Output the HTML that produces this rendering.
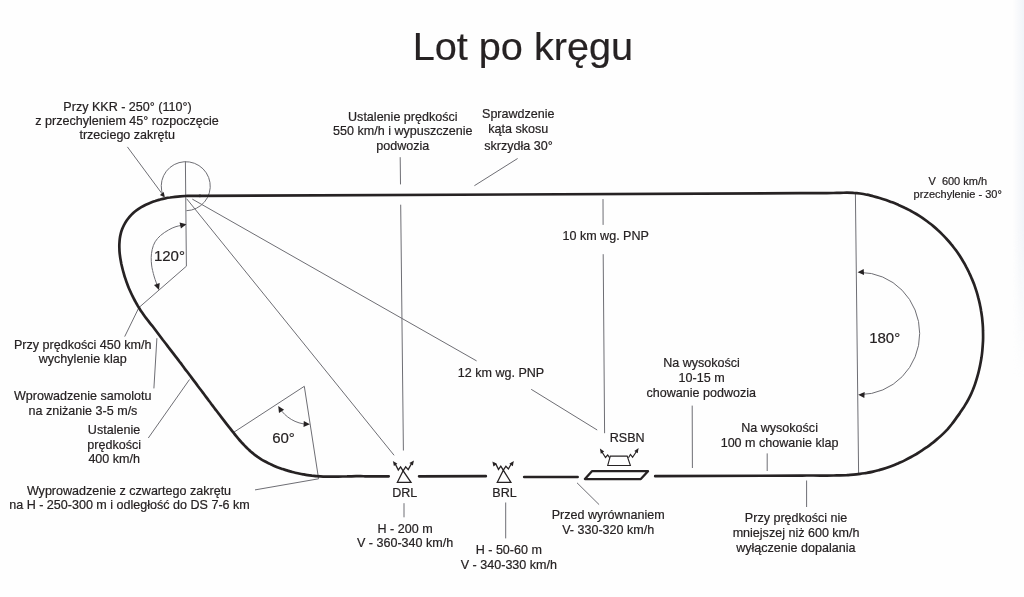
<!DOCTYPE html>
<html lang="pl">
<head>
<meta charset="utf-8">
<title>Lot po kręgu</title>
<style>
html,body{margin:0;padding:0;background:#fefefe;}
body{width:1024px;height:597px;overflow:hidden;}
svg{display:block;will-change:transform;}
text{white-space:pre;}
</style>
</head>
<body>
<svg width="1024" height="597" viewBox="0 0 1024 597">
<defs><linearGradient id="eh" x1="0" y1="0" x2="1" y2="0"><stop offset="0" stop-color="#f0f3f8" stop-opacity="0"/><stop offset="1" stop-color="#f0f3f8" stop-opacity="1"/></linearGradient><linearGradient id="ev" x1="0" y1="0" x2="0" y2="1"><stop offset="0" stop-color="#fff"/><stop offset="0.6" stop-color="#fff"/><stop offset="1" stop-color="#000"/></linearGradient><mask id="em"><rect x="1000" y="0" width="24" height="380" fill="url(#ev)"/></mask></defs>
<rect width="1024" height="597" fill="#fefefe"/>
<rect x="1013" y="0" width="11" height="380" fill="url(#eh)" mask="url(#em)"/>
<g fill="none" stroke="#6e6e74" stroke-width="1.00" stroke-linecap="butt">
<path d="M185.4 161.3 L186.4 266.2 L138.9 307.6"/>
<path d="M138.9 307.6 L124.7 336.6"/>
<path d="M156.9 338.2 L153.9 388.4"/>
<path d="M189.5 379.5 L148.3 438"/>
<path d="M233.6 432.4 L304.3 386.3 L318.6 478.8 L255 489.9"/>
<path d="M186.7 198.8 L394.1 455.3"/>
<path d="M192.3 199.1 L476.6 360.9"/>
<path d="M531.2 389.3 L597.2 430"/>
<path d="M400.2 157.2 L400.5 184.4"/>
<path d="M400.7 204.7 L403.4 450.5"/>
<path d="M517.6 158.5 L474.4 185.7"/>
<path d="M603 199.1 L603.1 224.9"/>
<path d="M603.2 254.2 L604.6 433.2"/>
<path d="M855.4 193 L858.6 473"/>
<path d="M692.2 405.6 L692.4 468"/>
<path d="M767.2 453.4 L767.2 471"/>
<path d="M806.6 480.5 L806.6 507"/>
<path d="M404 503.2 L404 517.3"/>
<path d="M505.7 502.5 L505.7 538.4"/>
<path d="M577 482.8 L599.1 504.6"/>
<path d="M127.4 146.9 L162.4 194.2"/>
<path d="M186.4 210.7 A24.5 24.5 0 1 0 163.2 195.8"/>
<path d="M185.5 224.8 C183.9 225.1 178.8 225.7 176.0 226.6 C173.2 227.5 171.1 228.5 168.5 230.0 C165.9 231.5 162.7 233.5 160.5 235.5 C158.3 237.5 156.5 239.5 155.1 241.8 C153.7 244.1 152.8 246.9 152.2 249.5 C151.5 252.1 151.3 255.0 151.2 257.6 C151.1 260.2 151.4 262.9 151.6 265.0 C151.8 267.1 152.1 268.5 152.6 270.5 C153.1 272.5 153.5 274.3 154.3 277.0 C155.1 279.7 157.1 284.9 157.6 286.5"/>
<path d="M279.6 408 C285 417 296 424 307.5 424.2"/>
<path d="M859.8 272.4 A59.8 61.1 0 0 1 860.0 394.6"/>
</g>
<g fill="#262223" stroke="none">
<polygon points="164.9,197.6 159.9,194.9 163.7,192.0"/>
<polygon points="186.4,224.2 180.9,228.4 179.6,222.6"/>
<polygon points="159.0,289.9 154.0,285.0 159.7,283.0"/>
<polygon points="278.2,406.0 284.1,409.8 279.0,412.9"/>
<polygon points="309.9,424.3 303.5,427.0 303.8,421.0"/>
<polygon points="857.6,272.3 863.7,268.9 864.1,274.9"/>
<polygon points="858.2,394.7 864.7,392.1 864.3,398.1"/>
</g>
<g fill="none" stroke="#262223" stroke-width="2.70" stroke-linecap="round" stroke-linejoin="round">
<path d="M199.9 195.9 L800.0 193.2  C801.1 193.2 804.5 193.2 806.7 193.2 C808.9 193.2 811.1 193.2 813.4 193.2 C815.6 193.2 817.8 193.2 820.0 193.2 C822.3 193.1 824.5 193.1 826.7 193.1 C829.0 193.0 831.2 193.0 833.4 193.0 C835.6 192.9 837.9 192.9 840.1 192.8 C842.3 192.8 844.6 192.7 846.8 192.7 C849.0 192.7 851.3 192.7 853.5 192.9 C855.7 193.0 857.9 193.2 860.1 193.5 C862.3 193.8 864.5 194.2 866.7 194.7 C868.8 195.1 871.0 195.7 873.2 196.2 C875.3 196.8 877.5 197.4 879.6 198.0 C881.7 198.6 883.9 199.3 886.0 200.0 C888.1 200.8 890.2 201.5 892.3 202.3 C894.4 203.1 896.4 204.0 898.5 204.9 C900.5 205.7 902.6 206.7 904.6 207.7 C906.6 208.6 908.6 209.7 910.5 210.7 C912.5 211.8 914.4 212.9 916.3 214.0 C918.2 215.2 920.1 216.4 922.0 217.6 C923.8 218.9 925.6 220.2 927.4 221.5 C929.2 222.8 930.9 224.2 932.7 225.6 C934.4 227.0 936.1 228.5 937.7 230.0 C939.4 231.5 941.0 233.0 942.5 234.6 C944.1 236.2 945.6 237.8 947.1 239.5 C948.6 241.1 950.1 242.8 951.5 244.6 C952.9 246.3 954.2 248.1 955.6 249.8 C956.9 251.6 958.2 253.5 959.4 255.3 C960.6 257.2 961.8 259.1 962.9 261.0 C964.1 262.9 965.2 264.8 966.2 266.8 C967.3 268.8 968.3 270.8 969.2 272.8 C970.2 274.8 971.1 276.8 971.9 278.9 C972.8 280.9 973.6 283.0 974.4 285.1 C975.1 287.2 975.8 289.3 976.5 291.4 C977.2 293.6 977.8 295.7 978.3 297.9 C978.9 300.0 979.4 302.2 979.9 304.4 C980.3 306.6 980.8 308.8 981.1 311.0 C981.5 313.2 981.8 315.4 982.1 317.6 C982.3 319.8 982.5 322.0 982.7 324.2 C982.9 326.5 983.0 328.7 983.0 330.9 C983.1 333.1 983.1 335.4 983.1 337.6 C983.1 339.8 983.0 342.1 982.8 344.3 C982.7 346.5 982.5 348.7 982.3 351.0 C982.1 353.2 981.8 355.4 981.5 357.6 C981.1 359.8 980.8 362.0 980.3 364.2 C979.9 366.4 979.4 368.6 978.9 370.7 C978.4 372.9 977.8 375.1 977.2 377.2 C976.6 379.3 975.9 381.5 975.2 383.6 C974.5 385.7 973.7 387.8 972.9 389.8 C972.0 391.9 971.2 393.9 970.2 395.9 C969.2 397.9 968.2 399.9 967.1 401.8 C965.9 403.7 964.8 405.6 963.6 407.5 C962.3 409.4 961.1 411.2 959.8 413.1 C958.5 414.9 957.2 416.8 955.9 418.6 C954.6 420.4 953.3 422.2 951.9 424.0 C950.5 425.7 949.1 427.4 947.7 429.1 C946.2 430.7 944.6 432.3 943.0 433.9 C941.5 435.4 939.8 436.9 938.1 438.3 C936.5 439.8 934.7 441.2 933.0 442.6 C931.2 443.9 929.5 445.3 927.7 446.6 C925.8 447.9 924.0 449.2 922.1 450.4 C920.3 451.6 918.4 452.8 916.5 454.0 C914.5 455.1 912.6 456.2 910.6 457.3 C908.7 458.4 906.7 459.4 904.7 460.4 C902.7 461.4 900.6 462.3 898.6 463.2 C896.5 464.1 894.5 465.0 892.4 465.8 C890.3 466.6 888.2 467.3 886.1 468.0 C884.0 468.7 881.8 469.4 879.7 469.9 C877.5 470.5 875.4 471.1 873.2 471.6 C871.0 472.1 868.9 472.5 866.7 472.9 C864.5 473.2 862.3 473.6 860.1 473.8 C857.9 474.1 855.7 474.4 853.5 474.6 C851.3 474.8 849.0 474.9 846.8 475.1 C844.6 475.2 842.4 475.3 840.1 475.4 C837.9 475.4 835.7 475.5 833.4 475.5 C831.2 475.6 829.0 475.6 826.7 475.6 C824.5 475.6 822.3 475.6 820.0 475.6 C817.8 475.6 815.6 475.6 813.3 475.5 C811.1 475.5 808.9 475.5 806.7 475.5 C804.4 475.5 801.1 475.6 800.0 475.6 L655.2 476.2"/>
<path d="M388.7 476.35 L365.0 476.3  C364.3 476.3 362.1 476.2 360.6 476.2 C359.1 476.2 357.6 476.2 356.1 476.2 C354.6 476.2 353.2 476.2 351.7 476.3 C350.2 476.3 348.7 476.3 347.2 476.4 C345.7 476.4 344.2 476.4 342.8 476.5 C341.3 476.5 339.8 476.5 338.3 476.6 C336.8 476.6 335.3 476.6 333.9 476.7 C332.4 476.7 330.9 476.7 329.4 476.7 C327.9 476.7 326.5 476.6 325.0 476.6 C323.5 476.6 322.0 476.5 320.6 476.4 C319.1 476.3 317.6 476.2 316.2 476.1 C314.7 476.0 313.3 475.8 311.8 475.7 C310.4 475.5 308.9 475.3 307.5 475.1 C306.0 474.9 304.6 474.6 303.1 474.3 C301.7 474.1 300.2 473.8 298.8 473.5 C297.3 473.2 295.9 472.8 294.5 472.5 C293.0 472.1 291.6 471.8 290.1 471.4 C288.7 471.0 287.3 470.5 285.8 470.1 C284.4 469.7 283.0 469.2 281.5 468.7 C280.1 468.2 278.7 467.7 277.3 467.2 C275.9 466.6 274.5 466.0 273.2 465.4 C271.8 464.8 270.5 464.2 269.1 463.6 C267.8 462.9 266.5 462.2 265.2 461.5 C263.9 460.8 262.6 460.1 261.3 459.3 C260.1 458.5 258.8 457.7 257.6 456.9 C256.4 456.0 255.3 455.2 254.1 454.3 C253.0 453.4 251.8 452.4 250.7 451.5 C249.6 450.5 248.6 449.5 247.5 448.5 C246.5 447.5 245.4 446.4 244.4 445.4 C243.4 444.3 242.4 443.2 241.4 442.2 C240.4 441.1 239.4 439.9 238.5 438.8 C237.5 437.7 236.6 436.6 235.6 435.4 C234.7 434.3 233.8 433.1 232.8 431.9 C231.9 430.8 231.0 429.6 230.1 428.4 C229.2 427.3 228.2 426.1 227.3 424.9 C226.4 423.8 225.5 422.6 224.6 421.4 C223.7 420.2 222.8 419.1 221.9 417.9 C221.0 416.7 220.1 415.5 219.2 414.3 C218.3 413.2 217.4 412.0 216.5 410.8 C215.6 409.6 214.7 408.5 213.8 407.3 C212.9 406.1 212.0 404.9 211.1 403.7 C210.3 402.5 209.4 401.4 208.5 400.2 C207.6 399.0 206.7 397.8 205.8 396.6 C204.9 395.5 204.0 394.3 203.2 393.1 C202.3 391.9 201.4 390.7 200.5 389.5 C199.6 388.4 198.7 387.2 197.8 386.0 C197.0 384.8 196.1 383.6 195.2 382.4 C194.3 381.3 193.4 380.1 192.5 378.9 C191.6 377.7 190.8 376.5 189.9 375.3 C189.0 374.2 188.1 373.0 187.2 371.8 C186.3 370.6 185.4 369.4 184.5 368.3 C183.7 367.1 182.8 365.9 181.9 364.7 C181.0 363.5 180.1 362.4 179.2 361.2 C178.3 360.0 177.4 358.8 176.5 357.6 C175.6 356.5 174.7 355.3 173.8 354.1 C172.9 352.9 172.0 351.8 171.1 350.6 C170.2 349.4 169.3 348.2 168.4 347.1 C167.5 345.9 166.6 344.7 165.7 343.5 C164.8 342.4 163.4 340.6 162.9 340.0 L152.4 326.0  C151.9 325.4 150.2 323.4 149.2 322.1 C148.1 320.8 147.1 319.4 146.1 318.1 C145.0 316.7 144.1 315.4 143.1 314.0 C142.2 312.7 141.2 311.3 140.3 309.9 C139.4 308.5 138.6 307.1 137.7 305.7 C136.9 304.2 136.0 302.8 135.3 301.4 C134.5 299.9 133.7 298.5 133.0 297.0 C132.2 295.5 131.5 294.0 130.8 292.5 C130.1 291.0 129.5 289.5 128.8 288.0 C128.2 286.4 127.6 284.9 127.0 283.3 C126.4 281.8 125.9 280.2 125.4 278.6 C124.8 277.0 124.3 275.4 123.9 273.8 C123.4 272.1 122.9 270.5 122.5 268.8 C122.1 267.2 121.7 265.5 121.3 263.8 C121.0 262.1 120.7 260.4 120.4 258.7 C120.1 257.0 119.9 255.3 119.7 253.6 C119.5 251.9 119.4 250.2 119.4 248.5 C119.3 246.9 119.3 245.2 119.4 243.5 C119.5 241.9 119.6 240.2 119.8 238.6 C120.0 237.0 120.3 235.3 120.7 233.8 C121.1 232.2 121.6 230.6 122.2 229.1 C122.8 227.6 123.4 226.1 124.2 224.7 C124.9 223.2 125.8 221.8 126.7 220.5 C127.7 219.1 128.7 217.8 129.7 216.6 C130.8 215.3 132.0 214.1 133.2 213.0 C134.4 211.9 135.7 210.9 137.1 209.9 C138.4 208.9 139.8 208.0 141.3 207.1 C142.7 206.3 144.2 205.5 145.8 204.7 C147.3 204.0 148.9 203.3 150.5 202.7 C152.0 202.1 153.7 201.5 155.3 201.0 C156.9 200.4 158.5 200.0 160.2 199.5 C161.8 199.1 163.5 198.7 165.1 198.4 C166.8 198.0 168.4 197.7 170.1 197.5 C171.7 197.2 173.4 197.0 175.1 196.8 C176.7 196.6 178.4 196.4 180.1 196.3 C181.7 196.2 183.4 196.1 185.1 196.0 C186.7 195.9 188.4 195.9 190.0 195.8 C191.7 195.8 193.3 195.8 195.0 195.8 C196.6 195.8 199.1 195.9 199.9 195.9"/>
<path d="M577.6 477 L524.2 477"/>
<path d="M485.8 476.2 L419.1 476.3"/>
</g>
<g fill="none" stroke="#262223" stroke-width="1.3" stroke-linejoin="miter">
<path d="M403.1 470.8 L397.4 482.3 L411.0 482.3 Z"/>
<path d="M403.1 470.8 L400.6 466.8 L398.3 470 L395.6 464.6 L394.6 463.2"/>
<path d="M403.1 470.8 L405.7 466.8 L408.2 469.6 L410.8 464.9 L412 463"/>
<path d="M503.3 470.2 L497.3 482.3 L510.9 482.3 Z"/>
<path d="M503.3 470.2 L500.8 466.2 L498.5 469.4 L495.8 464.0 L494.2 463.2"/>
<path d="M503.3 470.2 L505.9 466.2 L508.4 469.0 L511.0 464.3 L512 463"/>
<path d="M610.3 456.1 L627.2 456.1 L630.4 465.5 L607.7 465.5 Z" stroke-width="1.1"/>
<path d="M609.6 457.7 L607.7 455.0 L605.5 457.5 L601.4 451.0" stroke-width="1.15"/>
<path d="M628.5 457.7 L630.4 454.4 L632.6 457.2 L637.1 450.5" stroke-width="1.15"/>
</g>
<g fill="#262223">
<polygon points="392.9,461.0 397.4,463.7 393.9,466.1"/>
<polygon points="413.9,460.4 412.9,465.5 409.4,463.1"/>
<polygon points="492.4,461.4 496.9,464.1 493.4,466.5"/>
<polygon points="513.8,461.1 512.8,466.2 509.3,463.8"/>
<polygon points="599.9,448.6 604.2,451.5 600.8,453.7"/>
<polygon points="638.6,448.1 637.7,453.2 634.3,451.0"/>
</g>
<path d="M591.9 471.2 L648.0 471.2 L640.8 479.1 L584.9 479.1 Z" fill="none" stroke="#262223" stroke-width="2.3" stroke-linejoin="round"/>
<g font-family="'Liberation Sans', Arial, sans-serif" fill="#262223" stroke="#262223" stroke-width="0.2">
<text x="522.9" y="60.2" font-size="39.65" text-anchor="middle">Lot po kręgu</text>
<text x="127.5" y="110.9" font-size="12.55" text-anchor="middle">Przy KKR - 250° (110°)</text>
<text x="127.0" y="125.4" font-size="12.55" text-anchor="middle">z przechyleniem 45° rozpoczęcie</text>
<text x="127.2" y="139.1" font-size="12.55" text-anchor="middle">trzeciego zakrętu</text>
<text x="402.8" y="121.0" font-size="12.55" text-anchor="middle">Ustalenie prędkości</text>
<text x="402.8" y="135.3" font-size="12.55" text-anchor="middle">550 km/h i wypuszczenie</text>
<text x="402.8" y="149.6" font-size="12.55" text-anchor="middle">podwozia</text>
<text x="518.3" y="118.4" font-size="12.55" text-anchor="middle">Sprawdzenie</text>
<text x="518.3" y="132.6" font-size="12.55" text-anchor="middle">kąta skosu</text>
<text x="518.5" y="149.6" font-size="12.55" text-anchor="middle">skrzydła 30°</text>
<text x="957.8" y="184.6" font-size="11" text-anchor="middle">V  600 km/h</text>
<text x="957.7" y="197.7" font-size="11" text-anchor="middle">przechylenie - 30°</text>
<text x="605.7" y="239.5" font-size="12.55" text-anchor="middle">10 km wg. PNP</text>
<text x="501.0" y="377.2" font-size="12.55" text-anchor="middle">12 km wg. PNP</text>
<text x="169.4" y="261.4" font-size="15" text-anchor="middle">120°</text>
<text x="283.5" y="443.3" font-size="15" text-anchor="middle">60°</text>
<text x="884.7" y="343.1" font-size="15" text-anchor="middle">180°</text>
<text x="82.7" y="348.7" font-size="12.55" text-anchor="middle">Przy prędkości 450 km/h</text>
<text x="82.7" y="362.9" font-size="12.55" text-anchor="middle">wychylenie klap</text>
<text x="82.7" y="400.4" font-size="12.55" text-anchor="middle">Wprowadzenie samolotu</text>
<text x="83.0" y="414.9" font-size="12.55" text-anchor="middle">na zniżanie 3-5 m/s</text>
<text x="114.0" y="434.4" font-size="12.55" text-anchor="middle">Ustalenie</text>
<text x="114.2" y="448.7" font-size="12.55" text-anchor="middle">prędkości</text>
<text x="114.2" y="463.1" font-size="12.55" text-anchor="middle">400 km/h</text>
<text x="129.0" y="494.6" font-size="12.55" text-anchor="middle">Wyprowadzenie z czwartego zakrętu</text>
<text x="129.5" y="509.1" font-size="12.55" text-anchor="middle">na H - 250-300 m i odległość do DS 7-6 km</text>
<text x="404.8" y="497.0" font-size="12.55" text-anchor="middle">DRL</text>
<text x="504.5" y="497.0" font-size="12.55" text-anchor="middle">BRL</text>
<text x="627.2" y="442.4" font-size="12.55" text-anchor="middle">RSBN</text>
<text x="405.1" y="533.0" font-size="12.55" text-anchor="middle">H - 200 m</text>
<text x="405.1" y="547.2" font-size="12.55" text-anchor="middle">V - 360-340 km/h</text>
<text x="508.8" y="553.7" font-size="12.55" text-anchor="middle">H - 50-60 m</text>
<text x="508.9" y="568.7" font-size="12.55" text-anchor="middle">V - 340-330 km/h</text>
<text x="608.2" y="518.6" font-size="12.55" text-anchor="middle">Przed wyrównaniem</text>
<text x="608.2" y="533.8" font-size="12.55" text-anchor="middle">V- 330-320 km/h</text>
<text x="701.5" y="367.4" font-size="12.55" text-anchor="middle">Na wysokości</text>
<text x="701.6" y="382.2" font-size="12.55" text-anchor="middle">10-15 m</text>
<text x="701.3" y="397.0" font-size="12.55" text-anchor="middle">chowanie podwozia</text>
<text x="779.6" y="432.0" font-size="12.55" text-anchor="middle">Na wysokości</text>
<text x="779.6" y="447.2" font-size="12.55" text-anchor="middle">100 m chowanie klap</text>
<text x="796.1" y="521.6" font-size="12.55" text-anchor="middle">Przy prędkości nie</text>
<text x="796.1" y="536.5" font-size="12.55" text-anchor="middle">mniejszej niż 600 km/h</text>
<text x="795.8" y="551.7" font-size="12.55" text-anchor="middle">wyłączenie dopalania</text>
</g>
</svg>
</body>
</html>
